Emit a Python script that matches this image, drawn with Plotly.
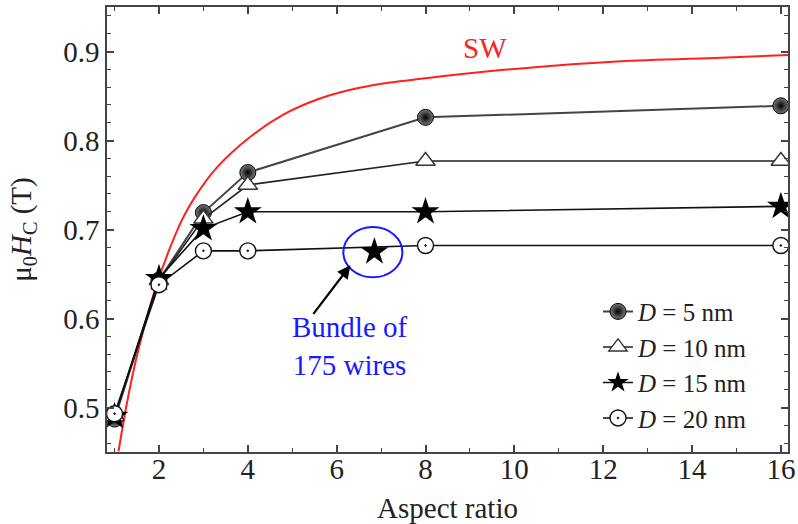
import plotly.graph_objects as go

# ---- data ----
aspect = [1, 2, 3, 4, 8, 16]
hc_d5 = [0.487, 0.643, 0.719, 0.764, 0.826, 0.839]
hc_d10 = [0.490, 0.643, 0.712, 0.750, 0.777, 0.777]
hc_d15 = [0.490, 0.645, 0.701, 0.720, 0.720, 0.726]
hc_d20 = [0.493, 0.638, 0.676, 0.676, 0.682, 0.682]

bundle_x = [6.85]
bundle_y = [0.675]

sw_x = [1.09, 1.26, 1.48, 1.71, 1.93, 2.23, 2.54, 2.79, 3.31, 4.05, 4.8, 5.56, 6.31, 7.05,
        8.0, 10.14, 12.4, 14.65, 16.16]
sw_y = [0.451, 0.500, 0.553, 0.598, 0.635, 0.677, 0.713, 0.735, 0.770, 0.804, 0.829, 0.846,
        0.857, 0.864, 0.870, 0.881, 0.889, 0.893, 0.896]

legend_names = ["<i>D</i> = 5 nm", "<i>D</i> = 10 nm", "<i>D</i> = 15 nm", "<i>D</i> = 20 nm"]
x_ticks = [2, 4, 6, 8, 10, 12, 14, 16]
y_ticks = [0.5, 0.6, 0.7, 0.8, 0.9]

FONT = "Liberation Serif, Times New Roman, serif"
FS = 29

fig = go.Figure()

fig.add_trace(go.Scatter(x=sw_x, y=sw_y, mode="lines",
                         line=dict(color="#ff2020", width=2, shape="spline", smoothing=0.8),
                         showlegend=False, hoverinfo="skip"))

fig.add_trace(go.Scatter(x=aspect, y=hc_d5, mode="lines+markers", name=legend_names[0],
                         line=dict(color="#444", width=2),
                         marker=dict(symbol="circle", size=16, color="#7a7a7a",
                                     gradient=dict(type="radial", color="black"),
                                     line=dict(color="black", width=1)),
                         legendrank=1))
fig.add_trace(go.Scatter(x=aspect, y=hc_d10, mode="lines+markers", name=legend_names[1],
                         line=dict(color="#222", width=1.6),
                         marker=dict(symbol="triangle-up", size=17, color="white",
                                     line=dict(color="#333", width=1.4)),
                         legendrank=2))
fig.add_trace(go.Scatter(x=aspect, y=hc_d15, mode="lines+markers", name=legend_names[2],
                         line=dict(color="#111", width=1.6),
                         marker=dict(symbol="star", size=21, color="black",
                                     line=dict(color="black", width=0)),
                         legendrank=3))
fig.add_trace(go.Scatter(x=aspect, y=hc_d20, mode="lines+markers", name=legend_names[3],
                         line=dict(color="#111", width=1.6),
                         marker=dict(symbol="circle-dot", size=16, color="white",
                                     line=dict(color="#111", width=1.4)),
                         legendrank=4))
fig.add_trace(go.Scatter(x=bundle_x, y=bundle_y, mode="markers", showlegend=False,
                         marker=dict(symbol="star", size=21, color="black")))

fig.add_shape(type="circle", xref="x", yref="y", x0=6.15, x1=7.48, y0=0.6463, y1=0.7027,
              line=dict(color="#1a1aff", width=2))

fig.add_annotation(x=6.31, y=0.6598, ax=5.45, ay=0.6035, xref="x", yref="y", axref="x", ayref="y",
                   text="", showarrow=True, arrowhead=2, arrowsize=1.2, arrowwidth=2.2, arrowcolor="black")
fig.add_annotation(x=6.31, y=0.569, xref="x", yref="y", text="Bundle of<br>175 wires", showarrow=False,
                   font=dict(family=FONT, size=FS, color="#1a1aff"), align="center")
fig.add_annotation(x=9.35, y=0.9045, xref="x", yref="y", text="SW", showarrow=False,
                   font=dict(family=FONT, size=FS, color="#ff2020"))

axis_common = dict(showgrid=False, zeroline=False, showline=True, linecolor="#444", linewidth=1.5,
                   mirror="ticks", ticks="inside", ticklen=7, tickwidth=1.5, tickcolor="#444",
                   automargin=False, tickfont=dict(family=FONT, size=FS, color="#222"))

fig.update_xaxes(range=[0.83, 16.16], tickvals=x_ticks, ticktext=[str(v) for v in x_ticks],
                 minor=dict(dtick=1, tick0=0, ticks="inside", ticklen=4, tickcolor="#444", tickwidth=1.2),
                 ticklabelstandoff=-10,
                 title=dict(text="Aspect ratio", font=dict(family=FONT, size=FS, color="#222"), standoff=14),
                 **axis_common)
fig.update_yaxes(range=[0.45, 0.95], tickvals=y_ticks, ticktext=[f"{v:.1f}" for v in y_ticks],
                 minor=dict(dtick=0.02, tick0=0, ticks="inside", ticklen=4, tickcolor="#444", tickwidth=1.2),
                 title=dict(text="μ<sub>0</sub><i>H</i><sub>C</sub> (T)",
                            font=dict(family=FONT, size=FS, color="#222"), standoff=23),
                 **axis_common)

fig.update_layout(width=798, height=524, margin=dict(l=107, r=10, t=7, b=72),
                  paper_bgcolor="white", plot_bgcolor="white",
                  legend=dict(x=0.721, y=0.367, xanchor="left", yanchor="top", bgcolor="rgba(0,0,0,0)",
                              font=dict(family=FONT, size=25, color="#222"), traceorder="normal",
                              itemwidth=30, tracegroupgap=0))

fig.write_html("out.html", config={"displayModeBar": False},
               post_script="document.body.style.margin='0px';document.body.style.overflow='hidden';")
